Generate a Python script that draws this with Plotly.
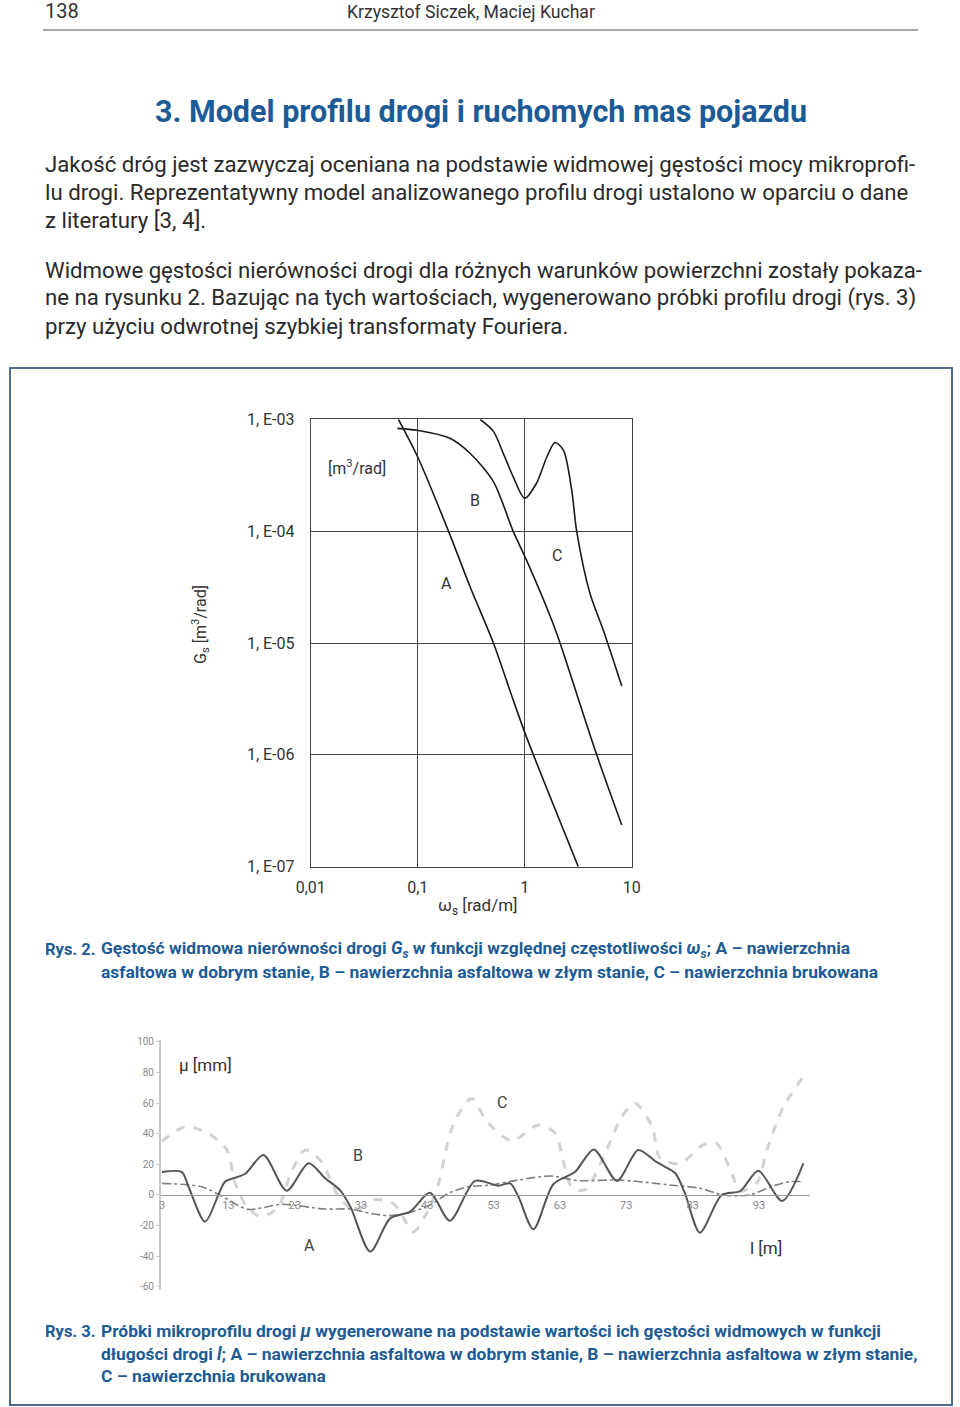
import plotly.graph_objects as go

W, H = 960, 1407

# ---------- Figure 2 data: spectral density of road roughness ----------
omega_A = [0.066, 0.1, 0.194, 0.308, 0.51, 0.78, 1.04, 3.17]
gs_A = [1e-3, 4.6e-4, 1e-4, 3.2e-5, 1e-5, 3.1e-6, 1.44e-6, 1e-7]

omega_B = [0.0646, 0.105, 0.2, 0.308, 0.51, 0.78, 1.04, 1.79, 2.14, 4.71, 8.07]
gs_B = [8.3e-4, 7.9e-4, 6.76e-4, 4.97e-4, 2.77e-4, 1e-4, 5.5e-5, 1.6e-5, 1e-5, 1e-6, 2.36e-7]

omega_C = [0.383, 0.51, 0.63, 0.78, 1.0, 1.29, 1.61, 1.92, 2.30, 2.75, 3.06, 4.07, 5.43, 8.07]
gs_C = [1e-3, 7.8e-4, 4.97e-4, 3.07e-4, 1.97e-4, 2.68e-4, 4.6e-4, 6.2e-4, 5.3e-4, 2.33e-4, 1e-4, 2.78e-5, 1.3e-5, 4.13e-6]

fig2_xtickvals = [0.01, 0.1, 1, 10]
fig2_xticktext = ["0,01", "0,1", "1", "10"]
fig2_ytickvals = [1e-7, 1e-6, 1e-5, 1e-4, 1e-3]
fig2_yticktext = ["1, E-07", "1, E-06", "1, E-05", "1, E-04", "1, E-03"]

# ---------- Figure 3 data: road micro-profile samples ----------
l_A = [3, 6, 7, 9.5, 11.5, 12.5, 15.5, 18.3, 21.8, 25.1,
       27.6, 29.8, 31.4, 34.4, 37.4, 40.4, 43.4, 46.4, 50.2, 53.7,
       55.5, 56.7, 59.0, 62.0, 65.3, 68.1, 71.6, 74.8, 77.4, 78.6,
       80.4, 81.9, 84.1, 87.4, 90.2, 92.9, 96.5, 99.7]
mu_A = [15, 15, 5.4, -17.4, 0, 8.7, 13.7, 26.1, 2.8, 20.7,
        11, 3.3, -7.6, -37, -15.3, -10.9, 1.5, -16.8, 9.2, 6.1,
        7.6, -0.7, -22.4, 7, 15.2, 29.8, 9.2, 29.4, 22, 19,
        14.2, 0.4, -24.6, 0, 2.6, 15.9, -3.9, 20.7]

l_B = [3, 9, 12, 16, 21, 27.6, 31.4, 34.4, 37.4, 40.4,
       43.4, 46.4, 49.2, 52.5, 56.7, 61.7, 65.7, 71.7, 77.4, 79.6,
       84.1, 87.6, 91.6, 95.1, 97.6, 99.7]
mu_B = [7.6, 5.4, -0.7, -9.4, -6.1, -9.2, -9.2, -12, -13.5, -11.5,
        -6.5, 1.5, 5.4, 6.5, 9.8, 12.4, 9.4, 9.8, 7.6, 6.5,
        4.4, 0, 0, 5.9, 8.7, 8.7]

l_C = [3, 6.5, 10, 12.8, 14, 16, 18, 20.5, 22.5, 24.6,
       27, 29.5, 32, 35, 38, 40.9, 42.5, 44.4, 46.9, 49.7,
       52, 55.7, 59.8, 62.3, 63.5, 64.8, 66.8, 69.8, 72.3, 74.3,
       76.9, 78.1, 81.1, 84.6, 86.6, 88.7, 90.2, 92.7, 94.2, 96.7,
       99.7]
mu_C = [35, 44.7, 40.3, 29.4, 8, -9, -14, -8, 15, 29.4,
        22, 0, -10, -3, -6, -24, -15, 3, 46, 63,
        48, 35.5, 45.8, 40.3, 22.2, 5, 3.3, 27.2, 51, 59.9,
        44.7, 24, 20.7, 32.7, 33.8, 16.3, 2.6, 8, 29.4, 57.7,
        77.3]

fig3_xtickvals = [3, 13, 23, 33, 43, 53, 63, 73, 83, 93]
fig3_ytickvals = [-60, -40, -20, 0, 20, 40, 60, 80, 100]
fig3_yticktext = ["-60", "-40", "-20", "0", "20", "40", "60", "80", "100"]


def px(x):
    return x / W


def py(y):
    return 1 - y / H


FONT = "Roboto"
BLUE = "#1c5b96"

fig = go.Figure()

# Figure 2 curves
for xs, ys in [(omega_A, gs_A), (omega_B, gs_B), (omega_C, gs_C)]:
    fig.add_trace(go.Scatter(x=xs, y=ys, mode="lines", xaxis="x", yaxis="y",
                             line=dict(color="#1a1a1a", width=1.6, shape="spline", smoothing=0.8),
                             showlegend=False, hoverinfo="skip"))

# Figure 3 curves
fig.add_trace(go.Scatter(x=l_C, y=mu_C, mode="lines", xaxis="x2", yaxis="y2",
                         line=dict(color="#d2d2d2", width=3, dash="dash", shape="spline", smoothing=0.8),
                         showlegend=False, hoverinfo="skip"))
fig.add_trace(go.Scatter(x=l_B, y=mu_B, mode="lines", xaxis="x2", yaxis="y2",
                         line=dict(color="#808080", width=1.6, dash="dashdot", shape="spline", smoothing=0.8),
                         showlegend=False, hoverinfo="skip"))
fig.add_trace(go.Scatter(x=l_A, y=mu_A, mode="lines", xaxis="x2", yaxis="y2",
                         line=dict(color="#555555", width=2, shape="spline", smoothing=0.8),
                         showlegend=False, hoverinfo="skip"))

ann = []


def text(x, y, s, size, color="#2a2a2a", anchor="left", weight="normal", angle=0, family=FONT):
    ann.append(dict(x=px(x), y=py(y), xref="paper", yref="paper", text=s, showarrow=False,
                    xanchor=anchor, yanchor="middle", textangle=angle,
                    font=dict(family=family, size=size, color=color, weight=weight)))


# Header
text(43, 11, "138", 20, "#333333")
text(471, 12, "Krzysztof Siczek, Maciej Kuchar", 17.6, "#333333", anchor="center")

# Title
text(481, 112, "3. Model profilu drogi i ruchomych mas pojazdu", 30.5, BLUE, anchor="center", weight="bold")

# Body text
body = [
    (164, "Jakość dróg jest zazwyczaj oceniana na podstawie widmowej gęstości mocy mikroprofi-"),
    (192, "lu drogi. Reprezentatywny model analizowanego profilu drogi ustalono w oparciu o dane"),
    (220, "z literatury [3, 4]."),
    (270, "Widmowe gęstości nierówności drogi dla różnych warunków powierzchni zostały pokaza-"),
    (298, "ne na rysunku 2. Bazując na tych wartościach, wygenerowano próbki profilu drogi (rys. 3)"),
    (326, "przy użyciu odwrotnej szybkiej transformaty Fouriera."),
]
for y, s in body:
    text(43, y, s, 22.2, "#2a2a2a")

# Figure 2 labels
text(357, 468, "[m<sup>3</sup>/rad]", 16, "#333333", anchor="center")
text(475, 500, "B", 16, "#333333", anchor="center")
text(557, 555, "C", 16, "#333333", anchor="center")
text(446, 584, "A", 16, "#333333", anchor="center")
text(200, 625, "G<sub>s</sub> [m<sup>3</sup>/rad]", 16, "#333333", anchor="center", angle=-90)
text(478, 906, "ω<sub>s</sub> [rad/m]", 17, "#333333", anchor="center")

# Caption 2
CAP = 17.4
text(43, 950, "Rys. 2.", 16.5, BLUE, weight="bold")
text(99, 950, "Gęstość widmowa nierówności drogi <i>G<sub>s</sub></i> w funkcji względnej częstotliwości "
              "<i>ω<sub>s</sub></i>; A – nawierzchnia", CAP, BLUE, weight="bold")
text(99, 972, "asfaltowa w dobrym stanie, B – nawierzchnia asfaltowa w złym stanie, C – nawierzchnia brukowana",
     CAP, BLUE, weight="bold")

# Figure 3 labels
text(205, 1065, "μ [mm]", 17, "#333333", anchor="center")
text(502, 1102, "C", 16, "#444444", anchor="center")
text(358, 1155, "B", 16, "#444444", anchor="center")
text(309, 1245, "A", 16, "#444444", anchor="center")
text(766, 1248, "l [m]", 17, "#333333", anchor="center")

# Caption 3
text(43, 1331, "Rys. 3.", 16.5, BLUE, weight="bold")
text(99, 1331, "Próbki mikroprofilu drogi <i>μ</i> wygenerowane na podstawie wartości ich gęstości widmowych w funkcji",
     CAP, BLUE, weight="bold")
text(99, 1354, "długości drogi <i>l</i>; A – nawierzchnia asfaltowa w dobrym stanie, B – nawierzchnia asfaltowa w złym stanie,",
     CAP, BLUE, weight="bold")
text(99, 1376, "C – nawierzchnia brukowana", CAP, BLUE, weight="bold")

shapes = [
    dict(type="line", xref="paper", yref="paper", x0=px(43), x1=px(918), y0=py(30), y1=py(30),
         line=dict(color="#8a8a8a", width=1.5)),
    dict(type="rect", xref="paper", yref="paper", x0=px(10), x1=px(952), y0=py(1405), y1=py(368),
         line=dict(color="#4d6d8d", width=2)),
]

fig.update_layout(
    width=W, height=H, margin=dict(l=0, r=0, t=0, b=0, pad=0, autoexpand=False),
    paper_bgcolor="white", plot_bgcolor="white",
    font=dict(family=FONT),
    showlegend=False,
    annotations=ann, shapes=shapes,
    xaxis=dict(type="log", range=[-2, 1], domain=[px(310.7), px(631.7)], anchor="y", automargin=False,
               showgrid=True, gridcolor="#444444", gridwidth=1,
               showline=True, linecolor="#444444", linewidth=1, mirror=True,
               tickvals=fig2_xtickvals, ticktext=fig2_xticktext, ticks="",
               tickfont=dict(size=16, color="#333333"), zeroline=False, ticklabelstandoff=6),
    yaxis=dict(type="log", range=[-7, -3], domain=[py(866.7), py(419.3)], anchor="x", automargin=False,
               showgrid=True, gridcolor="#444444", gridwidth=1,
               showline=True, linecolor="#444444", linewidth=1, mirror=True,
               tickvals=fig2_ytickvals, ticktext=fig2_yticktext, ticks="",
               tickfont=dict(size=16, color="#333333"), zeroline=False, ticklabelstandoff=12),
    xaxis2=dict(range=[2.7, 100.7], domain=[px(160), px(810)], anchor="free", position=py(1195),
                automargin=False,
                showgrid=False, zeroline=False, showline=True, linecolor="#9a9a9a", linewidth=1,
                tickvals=fig3_xtickvals, ticks="", tickfont=dict(size=11, color="#888888")),
    yaxis2=dict(range=[-62.1, 101.3], domain=[py(1290), py(1040)], anchor="free", position=px(160),
                automargin=False,
                showgrid=False, zeroline=False, showline=True, linecolor="#c8c8c8", linewidth=2,
                tickvals=fig3_ytickvals, ticktext=fig3_yticktext,
                ticks="outside", ticklen=3, tickcolor="#cccccc",
                tickfont=dict(size=10, color="#888888")),
)

fig.write_html("out.html", config={"displayModeBar": False},
               post_script="document.body.style.margin='0';document.body.style.overflow='hidden';")
